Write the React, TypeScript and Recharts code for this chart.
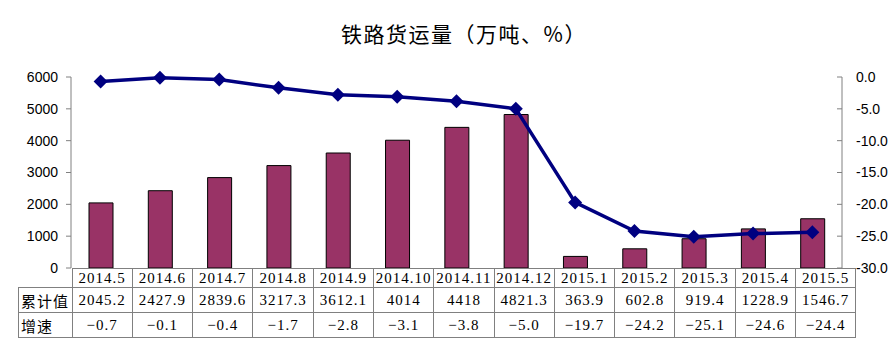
import { Bar, ComposedChart, Line, XAxis, YAxis } from 'recharts'

const months = ['2014.5', '2014.6', '2014.7', '2014.8', '2014.9', '2014.10', '2014.11', '2014.12', '2015.1', '2015.2', '2015.3', '2015.4', '2015.5']
const totals = [2045.2, 2427.9, 2839.6, 3217.3, 3612.1, 4014, 4418, 4821.3, 363.9, 602.8, 919.4, 1228.9, 1546.7]
const growth = [-0.7, -0.1, -0.4, -1.7, -2.8, -3.1, -3.8, -5.0, -19.7, -24.2, -25.1, -24.6, -24.4]
const leftTicks = [0, 1000, 2000, 3000, 4000, 5000, 6000]
const rightTicks = [0, -5, -10, -15, -20, -25, -30]

const data = months.map((m, i) => ({ month: m, total: totals[i], growth: growth[i] }))

const PLOT_LEFT = 71
const PLOT_RIGHT = 842
const COL_W = (PLOT_RIGHT - PLOT_LEFT) / months.length

const tickStyle = { fontSize: 14, fill: '#000', fontFamily: '"Liberation Sans", Arial, sans-serif' }
const cellFont = '"Liberation Serif", "Noto Sans CJK SC", serif'
const border = '1px solid #808080'

function Diamond(props: any) {
  const { cx, cy } = props
  if (cx == null || cy == null) return null
  const r = 7
  return <polygon points={`${cx},${cy - r} ${cx + r},${cy} ${cx},${cy + r} ${cx - r},${cy}`} fill="#000080" />
}

const fmt = (v: number) => v.toFixed(1).replace('-', '−')

export default function App() {
  const cell = { border, padding: 0, textAlign: 'center' as const, fontFamily: cellFont, fontSize: 15, width: COL_W, letterSpacing: 1, whiteSpace: 'nowrap' as const }
  const labelCell = { border, padding: '0 0 0 2px', textAlign: 'left' as const, fontFamily: '"Noto Sans CJK SC", sans-serif', fontSize: 15, width: PLOT_LEFT - 18, letterSpacing: 1 }
  return (
    <div style={{ position: 'absolute', left: 0, top: 0, width: 895, height: 355, background: '#fff' }}>
      <div style={{ position: 'absolute', left: 0, top: 18, width: 928, textAlign: 'center', fontFamily: '"Noto Sans CJK SC", sans-serif', fontSize: 21, letterSpacing: 1.5, lineHeight: '30px' }}>
        铁路货运量（万吨、%）
      </div>
      <ComposedChart width={895} height={355} data={data} margin={{ top: 77, right: 0, bottom: 87, left: 0 }}>
        <XAxis dataKey="month" height={0} tick={false} tickLine={false} axisLine={{ stroke: '#808080' }} />
        <YAxis yAxisId="l" width={PLOT_LEFT} domain={[0, 6000]} ticks={leftTicks} tick={tickStyle} tickSize={5} tickMargin={8} axisLine={{ stroke: '#808080' }} tickLine={{ stroke: '#808080' }} />
        <YAxis yAxisId="r" orientation="right" width={895 - PLOT_RIGHT} domain={[-30, 0]} ticks={rightTicks} tick={tickStyle} tickFormatter={(v: number) => v.toFixed(1)} tickSize={-5} tickMargin={19} axisLine={{ stroke: '#808080' }} tickLine={{ stroke: '#808080' }} />
        <Bar yAxisId="l" dataKey="total" barSize={24} fill="#993366" stroke="#000" strokeWidth={1} isAnimationActive={false} />
        <Line yAxisId="r" dataKey="growth" stroke="#000080" strokeWidth={3.5} dot={<Diamond />} activeDot={false} isAnimationActive={false} />
      </ComposedChart>
      <table style={{ position: 'absolute', left: 18, top: 268, borderCollapse: 'collapse', tableLayout: 'fixed', width: PLOT_RIGHT - 18 + 1 }}>
        <tbody>
          <tr style={{ height: 19 }}>
            <td style={{ width: PLOT_LEFT - 18, padding: 0, border: 'none' }}></td>
            {months.map((m) => <td key={m} style={{ ...cell, lineHeight: '17px' }}>{m}</td>)}
          </tr>
          <tr style={{ height: 25 }}>
            <td style={labelCell}>累计值</td>
            {totals.map((v, i) => <td key={i} style={cell}>{v}</td>)}
          </tr>
          <tr style={{ height: 25 }}>
            <td style={labelCell}>增速</td>
            {growth.map((v, i) => <td key={i} style={cell}>{fmt(v)}</td>)}
          </tr>
        </tbody>
      </table>
    </div>
  )
}
